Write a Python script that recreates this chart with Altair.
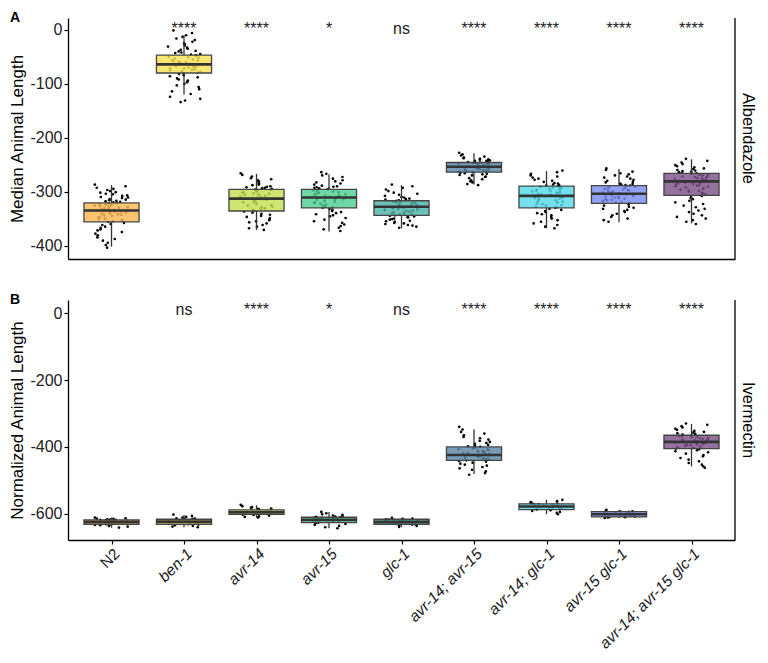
import json
import math
import altair as alt
import pandas as pd

FONT = "Liberation Sans"

strains = ["N2", "ben-1", "avr-14", "avr-15", "glc-1", "avr-14; avr-15",
           "avr-14; glc-1", "avr-15 glc-1", "avr-14; avr-15 glc-1"]
colors = ["#F9B751", "#F7E354", "#C3E152", "#4ED192", "#4EB3A6",
          "#5B86A8", "#55D9E6", "#7A8EF0", "#7D5389"]

sig_a = ["", "****", "****", "*", "ns", "****", "****", "****", "****"]
sig_b = ["", "ns", "****", "*", "ns", "****", "****", "****", "****"]

# Panel A (Albendazole) box statistics
a_lo = [-402, -120, -371, -374, -368, -287, -368, -357, -359]
a_q1 = [-356, -80, -336, -330, -344, -264, -330, -322, -307]
a_med = [-335, -64, -313, -311, -328, -254, -308, -304, -281]
a_q3 = [-321, -47, -296, -296, -317, -246, -290, -289, -266]
a_hi = [-288, -10, -267, -268, -288, -229, -262, -258, -240]

# Panel B (Ivermectin) box statistics
b_lo = [-641, -640, -611, -643, -639, -481, -601, -612, -458]
b_q1 = [-631, -631, -601, -626, -631, -440, -587, -609, -405]
b_med = [-624, -623, -595, -618, -624, -424, -578, -601, -385]
b_q3 = [-618, -616, -588, -610, -616, -400, -570, -593, -365]
b_hi = [-611, -603, -574, -594, -612, -348, -558, -588, -331]

# Panel A individual points (estimated)
a_n2 = [-287, -290, -293, -295, -297, -299, -301, -302, -304, -305, -307, -308, -310, -311, -312,
        -314, -315, -316, -317, -318, -319, -320, -321, -322, -323, -324, -325, -326, -327, -328,
        -329, -330, -331, -332, -333, -334, -335, -335, -336, -337, -338, -339, -340, -341, -342,
        -343, -344, -345, -347, -348, -350, -351, -353, -355, -356, -358, -360, -362, -365, -367,
        -370, -372, -375, -378, -381, -385, -388, -391, -395, -399, -404]
a_ben1 = [-1, -6, -10, -13, -16, -19, -22, -25, -27, -29, -31, -33, -35, -37, -39, -40, -42, -43,
          -45, -46, -47, -48, -50, -51, -52, -53, -55, -56, -57, -58, -59, -60, -61, -62, -63, -64,
          -64, -65, -66, -67, -68, -69, -70, -71, -72, -73, -74, -75, -77, -78, -79, -80, -82, -84,
          -86, -88, -90, -92, -94, -97, -100, -103, -106, -110, -114, -119, -124, -128, -131, -134]
a_avr14 = [-266, -269, -272, -275, -277, -279, -281, -283, -285, -287, -288, -290, -291, -292,
           -293, -294, -295, -296, -297, -298, -299, -300, -301, -302, -303, -304, -305, -306,
           -307, -308, -309, -310, -311, -312, -313, -313, -314, -315, -316, -317, -318, -319,
           -320, -322, -323, -325, -326, -328, -329, -331, -332, -334, -335, -337, -339, -341,
           -343, -345, -347, -349, -351, -353, -355, -357, -359, -362, -365, -368, -371]
a_avr15 = [-264, -267, -270, -273, -276, -279, -281, -283, -285, -287, -289, -290, -291, -292,
           -293, -294, -295, -296, -297, -298, -299, -300, -301, -302, -303, -304, -305, -306,
           -307, -308, -309, -310, -310, -311, -312, -313, -314, -315, -316, -317, -318, -319,
           -320, -321, -322, -324, -325, -327, -328, -329, -330, -332, -334, -336, -338, -340,
           -342, -344, -346, -349, -352, -355, -358, -361, -364, -367, -370, -373]
a_glc1 = [-287, -290, -293, -296, -299, -302, -304, -306, -308, -310, -311, -313, -314, -315,
          -316, -317, -318, -319, -320, -321, -322, -323, -324, -325, -326, -327, -328, -328,
          -329, -330, -331, -332, -333, -334, -335, -336, -337, -338, -339, -340, -341, -342,
          -343, -344, -345, -346, -347, -348, -350, -351, -352, -354, -355, -356, -358, -359,
          -360, -362, -363, -365, -367]
a_d1415 = [-228, -231, -233, -235, -237, -238, -239, -240, -241, -242, -243, -243, -244, -245,
           -245, -246, -247, -247, -248, -249, -249, -250, -251, -251, -252, -253, -253, -254,
           -254, -255, -256, -256, -257, -258, -258, -259, -260, -260, -261, -262, -263, -263,
           -264, -265, -266, -267, -268, -269, -270, -272, -273, -275, -277, -279, -281, -283,
           -286, -288]
a_d14g = [-261, -264, -267, -270, -272, -274, -276, -278, -280, -282, -284, -285, -287, -288,
          -289, -290, -291, -292, -293, -294, -295, -296, -297, -298, -299, -300, -301, -302,
          -303, -304, -305, -306, -307, -308, -308, -309, -310, -311, -312, -313, -314, -315,
          -316, -318, -319, -320, -322, -323, -325, -326, -328, -329, -330, -332, -334, -336,
          -338, -340, -342, -344, -347, -350, -353, -356, -359, -362, -365, -368]
a_d15g = [-257, -260, -263, -266, -268, -270, -272, -274, -276, -278, -280, -282, -283, -285,
          -286, -287, -288, -289, -290, -291, -292, -293, -294, -295, -296, -297, -298, -299,
          -300, -301, -302, -303, -303, -304, -305, -306, -307, -308, -309, -310, -311, -312,
          -313, -314, -315, -316, -317, -318, -319, -320, -321, -322, -324, -326, -328, -330,
          -332, -334, -336, -338, -341, -344, -347, -350, -353, -356]
a_trip = [-239, -243, -246, -249, -251, -253, -255, -257, -258, -260, -261, -262, -263, -264,
          -265, -266, -267, -268, -269, -270, -271, -272, -273, -274, -275, -276, -277, -278,
          -279, -280, -281, -281, -282, -283, -284, -285, -286, -287, -288, -289, -290, -291,
          -292, -294, -295, -296, -298, -299, -300, -302, -303, -305, -306, -308, -310, -312,
          -314, -317, -320, -323, -326, -329, -332, -335, -338, -341, -344, -347, -350, -353,
          -356, -360]

# Panel B individual points (estimated)
b_n2 = [-611, -613, -614, -615, -616, -617, -618, -618, -619, -620, -621, -622, -622, -623, -623,
        -624, -624, -625, -625, -626, -626, -627, -628, -629, -630, -631, -632, -633, -634, -636,
        -638, -641]
b_ben1 = [-602, -606, -609, -611, -613, -614, -615, -616, -617, -618, -619, -620, -621, -622,
          -623, -623, -624, -625, -626, -627, -628, -629, -630, -631, -632, -634, -636, -638, -640]
b_avr14 = [-573, -577, -580, -582, -584, -585, -586, -587, -588, -589, -590, -591, -592, -593,
           -594, -595, -595, -596, -597, -598, -599, -600, -601, -602, -603, -605, -607, -609, -611]
b_avr15 = [-594, -598, -601, -603, -605, -607, -608, -609, -610, -611, -612, -613, -614, -615,
           -616, -617, -618, -619, -620, -621, -622, -623, -624, -625, -626, -628, -630, -633,
           -636, -640, -643]
b_glc1 = [-612, -614, -615, -616, -617, -618, -619, -620, -621, -622, -623, -624, -624, -625,
          -626, -627, -628, -629, -630, -631, -632, -634, -636, -639]
b_d1415 = [-340, -348, -355, -360, -365, -370, -374, -378, -382, -385, -388, -391, -394, -396,
           -398, -400, -402, -404, -406, -408, -409, -411, -412, -414, -415, -417, -418, -420,
           -421, -423, -424, -426, -427, -429, -430, -432, -434, -436, -438, -440, -442, -444,
           -447, -450, -453, -456, -460, -464, -468, -473, -478, -483]
b_d14g = [-558, -562, -565, -567, -569, -570, -571, -572, -573, -574, -575, -576, -577, -578,
          -578, -579, -580, -581, -582, -583, -584, -585, -586, -587, -589, -591, -594, -597, -601]
b_d15g = [-588, -590, -592, -593, -594, -595, -596, -597, -598, -599, -600, -601, -601, -602,
          -603, -604, -605, -606, -607, -608, -609, -610, -611, -612]
b_trip = [-330, -334, -338, -342, -346, -349, -352, -355, -357, -359, -361, -363, -365, -367,
          -368, -370, -371, -373, -374, -376, -377, -379, -380, -382, -383, -385, -386, -388,
          -389, -391, -392, -394, -395, -397, -399, -401, -403, -405, -407, -410, -413, -416,
          -420, -424, -428, -433, -438, -443, -448, -453, -458, -462]

a_groups = [a_n2, a_ben1, a_avr14, a_avr15, a_glc1, a_d1415, a_d14g, a_d15g, a_trip]
b_groups = [b_n2, b_ben1, b_avr14, b_avr15, b_glc1, b_d1415, b_d14g, b_d15g, b_trip]

W = 667
HA, HB = 241, 240
BOX_HALF = 0.38
JITTER = 0.46


def spread(j, k):
    # deterministic horizontal scatter (visual jitter only)
    h = math.sin(j * 12.9898 + k * 78.233) * 43758.5453
    return h - math.floor(h) - 0.5


def points_frame(groups):
    rows = []
    for k, vals in enumerate(groups):
        for j, v in enumerate(vals):
            rows.append({"strain": strains[k], "px": k + spread(j, k) * JITTER, "val": v})
    return pd.DataFrame(rows)


def box_frame(lo, q1, med, q3, hi):
    return pd.DataFrame({
        "strain": strains,
        "idx": list(range(len(strains))),
        "xl": [i - BOX_HALF for i in range(len(strains))],
        "xr": [i + BOX_HALF for i in range(len(strains))],
        "lo": lo, "q1": q1, "med": med, "q3": q3, "hi": hi,
    })


def sig_frame(sig, yv):
    rows = [{"idx": i, "sig": s, "sy": yv} for i, s in enumerate(sig) if s]
    return pd.DataFrame(rows)


label_expr = json.dumps(strains) + "[datum.value]"
XSC = alt.Scale(domain=[-0.6, 8.6], nice=False, zero=False)
CSC = alt.Scale(domain=strains, range=colors)


def panel(groups, stats, sig, sig_y, ydom, yvals, ytitle, letter, facet, bottom, H):
    if bottom:
        xax = alt.Axis(values=list(range(9)), labelExpr=label_expr, labelAngle=-45,
                       labelAlign="right", labelBaseline="top", labelFontSize=15.5,
                       labelOverlap=False, labelBound=False, labelFlush=False,
                       labelFontStyle={"condition": {"test": "datum.value == 0", "value": "normal"},
                                       "value": "italic"},
                       tickSize=4, labelPadding=2, title=None, grid=False)
    else:
        xax = alt.Axis(labels=False, ticks=False, title=None, grid=False)
    ysc = alt.Scale(domain=ydom, nice=False, zero=False)
    yax = alt.Axis(values=yvals, labelExpr="toString(datum.value)", title=ytitle, tickSize=4,
                   labelFontSize=16, titleFontSize=17, labelPadding=2, titlePadding=3,
                   labelOverlap=False, grid=False)

    pts = alt.Chart(points_frame(groups)).mark_circle(size=7, color="black", opacity=1).encode(
        x=alt.X("px:Q", scale=XSC, axis=xax),
        y=alt.Y("val:Q", scale=ysc, axis=yax),
    )
    bdf = box_frame(*stats)
    whisk_lo = alt.Chart(bdf).mark_rule(color="#333333", strokeWidth=1.3).encode(
        x=alt.X("idx:Q", scale=XSC, axis=xax),
        y=alt.Y("lo:Q", scale=ysc, axis=yax), y2="q1:Q")
    whisk_hi = alt.Chart(bdf).mark_rule(color="#333333", strokeWidth=1.3).encode(
        x=alt.X("idx:Q", scale=XSC, axis=xax),
        y=alt.Y("q3:Q", scale=ysc, axis=yax), y2="hi:Q")
    boxes = alt.Chart(bdf).mark_rect(stroke="#444444", strokeWidth=1.3, fillOpacity=0.82).encode(
        x=alt.X("xl:Q", scale=XSC, axis=xax), x2="xr:Q",
        y=alt.Y("q1:Q", scale=ysc, axis=yax), y2="q3:Q",
        fill=alt.Fill("strain:N", scale=CSC, legend=None))
    medians = alt.Chart(bdf).mark_rule(color="#333333", strokeWidth=2.6).encode(
        x=alt.X("xl:Q", scale=XSC, axis=xax), x2="xr:Q",
        y=alt.Y("med:Q", scale=ysc, axis=yax))
    sigs = alt.Chart(sig_frame(sig, sig_y)).mark_text(
        fontSize=16, font=FONT, baseline="alphabetic", color="#222222").encode(
        x=alt.X("idx:Q", scale=XSC, axis=xax),
        y=alt.Y("sy:Q", scale=ysc, axis=yax),
        text="sig:N")
    border = alt.Chart(pd.DataFrame({"k": [0]})).mark_rule(color="black", strokeWidth=1.3).encode(
        x=alt.value(W), y=alt.value(0), y2=alt.value(H))
    letter_t = alt.Chart(pd.DataFrame({"t": [letter]})).mark_text(
        fontSize=14, font=FONT, fontWeight="bold", align="left", baseline="alphabetic",
        color="black").encode(x=alt.value(-58), y=alt.value(4), text="t:N")
    facet_t = alt.Chart(pd.DataFrame({"t": [facet]})).mark_text(
        fontSize=16.5, font=FONT, angle=90, align="center", baseline="middle",
        color="black").encode(x=alt.value(W + 13), y=alt.value(H / 2), text="t:N")
    return alt.layer(pts, whisk_lo, whisk_hi, boxes, medians, sigs, border, letter_t,
                     facet_t).properties(width=W, height=H)


pa = panel(a_groups, (a_lo, a_q1, a_med, a_q3, a_hi), sig_a, -7, [-425, 22],
           [-400, -300, -200, -100, 0], "Median Animal Length", "A", "Albendazole", False, HA)
pb = panel(b_groups, (b_lo, b_q1, b_med, b_q3, b_hi), sig_b, -7, [-678, 39],
           [-600, -400, -200, 0], "Normalized Animal Length", "B", "Ivermectin", True, HB)

chart = alt.vconcat(pa, pb, spacing=41, bounds="flush").properties(
    padding={"left": 0, "top": 3, "right": 2, "bottom": 0}
).configure_view(stroke=None).configure_axis(
    domainColor="black", domainWidth=1.3, tickColor="black", tickWidth=1.2,
    labelColor="#222222", titleColor="black", labelFont=FONT, titleFont=FONT,
    titleFontWeight="normal")

chart.save("out.html", embed_options={"renderer": "svg", "actions": False})
